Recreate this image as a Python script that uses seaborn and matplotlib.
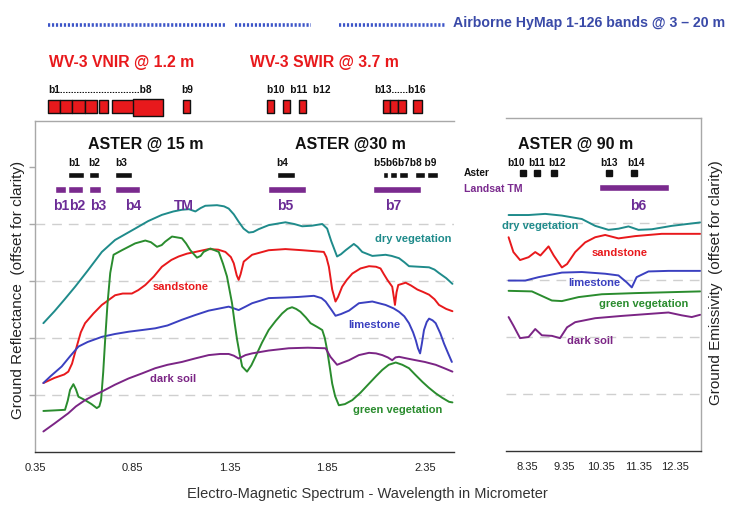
import numpy as np
import pandas as pd
import matplotlib
matplotlib.use("Agg")
import matplotlib.pyplot as plt
import seaborn as sns

# ------------------------------------------------------------------
# Data
# ------------------------------------------------------------------
# VNIR-SWIR reflectance (left panel), wavelength in micrometer, value offset units
dry_veg_wl = [0.393, 0.45, 0.50, 0.556, 0.62, 0.693, 0.761, 0.864, 0.93, 1.001, 1.06, 1.104, 1.14, 1.173,
              1.20, 1.224, 1.284, 1.32, 1.344, 1.37, 1.395, 1.42, 1.447, 1.47, 1.498, 1.549, 1.60, 1.635,
              1.68, 1.721, 1.77, 1.824, 1.849, 1.87, 1.90, 1.92, 1.944, 1.986, 2.005, 2.029, 2.081, 2.149,
              2.18, 2.218, 2.245, 2.269, 2.32, 2.372, 2.40, 2.423, 2.46, 2.492]
dry_veg_ref = [2.26, 2.47, 2.67, 2.90, 3.18, 3.51, 3.72, 3.92, 4.05, 4.16, 4.22, 4.25, 4.26, 4.22,
               4.28, 4.32, 4.33, 4.31, 4.27, 4.17, 4.04, 3.92, 3.85, 3.86, 3.91, 3.98, 4.01, 4.03,
               4.00, 3.96, 3.97, 4.00, 3.92, 3.70, 3.43, 3.47, 3.54, 3.65, 3.60, 3.51, 3.44, 3.46,
               3.44, 3.40, 3.33, 3.26, 3.25, 3.24, 3.20, 3.14, 3.05, 2.95]

sandstone_wl = [0.393, 0.45, 0.50, 0.521, 0.54, 0.564, 0.585, 0.607, 0.65, 0.693, 0.761, 0.80, 0.847, 0.88,
                0.916, 0.96, 1.001, 1.05, 1.087, 1.13, 1.173, 1.241, 1.29, 1.327, 1.355, 1.37, 1.385, 1.395,
                1.405, 1.421, 1.464, 1.549, 1.635, 1.721, 1.832, 1.845, 1.858, 1.875, 1.892, 1.905, 1.926,
                1.95, 1.978, 2.02, 2.064, 2.10, 2.123, 2.14, 2.158, 2.183, 2.192, 2.197, 2.205, 2.214,
                2.252, 2.28, 2.312, 2.34, 2.372, 2.40, 2.423, 2.46, 2.492]
sandstone_ref = [1.21, 1.30, 1.36, 1.41, 1.55, 1.85, 2.10, 2.26, 2.43, 2.58, 2.75, 2.78, 2.78, 2.84,
                 2.93, 3.08, 3.25, 3.37, 3.43, 3.48, 3.51, 3.56, 3.55, 3.51, 3.42, 3.31, 3.10, 3.02,
                 3.12, 3.34, 3.46, 3.54, 3.56, 3.54, 3.51, 3.42, 3.25, 2.85, 2.64, 2.72, 2.90,
                 3.02, 3.13, 3.22, 3.26, 3.25, 3.22, 3.12, 3.02, 2.90, 2.70, 2.58, 2.80, 2.93,
                 2.97, 2.92, 2.85, 2.81, 2.76, 2.68, 2.58, 2.51, 2.47]

limestone_wl = [0.393, 0.43, 0.487, 0.53, 0.573, 0.62, 0.693, 0.76, 0.83, 0.90, 0.967, 1.03, 1.104, 1.17,
                1.241, 1.30, 1.344, 1.37, 1.395, 1.43, 1.464, 1.549, 1.635, 1.70, 1.781, 1.82, 1.841,
                1.87, 1.892, 1.92, 1.961, 2.012, 2.081, 2.149, 2.19, 2.218, 2.245, 2.269, 2.29, 2.304,
                2.315, 2.326, 2.335, 2.346, 2.36, 2.372, 2.39, 2.406, 2.43, 2.449, 2.47, 2.489]
limestone_ref = [1.21, 1.33, 1.50, 1.68, 1.85, 1.93, 2.02, 2.07, 2.11, 2.14, 2.17, 2.22, 2.32, 2.40,
                 2.48, 2.52, 2.55, 2.52, 2.49, 2.55, 2.61, 2.70, 2.71, 2.72, 2.74, 2.70, 2.64,
                 2.50, 2.39, 2.42, 2.48, 2.61, 2.64, 2.58, 2.52, 2.46, 2.38, 2.26, 2.10, 1.96,
                 1.82, 1.73, 1.90, 2.14, 2.28, 2.34, 2.31, 2.26, 2.08, 1.90, 1.73, 1.58]

green_veg_wl = [0.393, 0.45, 0.504, 0.518, 0.53, 0.547, 0.56, 0.573, 0.607, 0.64, 0.667, 0.68, 0.689, 0.70,
                0.71, 0.722, 0.736, 0.753, 0.796, 0.864, 0.916, 0.945, 0.976, 1.00, 1.018, 1.053, 1.104,
                1.125, 1.147, 1.181, 1.20, 1.215, 1.25, 1.293, 1.315, 1.335, 1.361, 1.375, 1.387, 1.40,
                1.413, 1.438, 1.46, 1.481, 1.515, 1.549, 1.585, 1.618, 1.645, 1.669, 1.69, 1.712, 1.74,
                1.764, 1.80, 1.824, 1.837, 1.849, 1.862, 1.875, 1.89, 1.909, 1.94, 1.978, 2.02, 2.064,
                2.10, 2.132, 2.165, 2.201, 2.235, 2.269, 2.30, 2.338, 2.37, 2.406, 2.44, 2.475, 2.492]
green_veg_ref = [0.72, 0.73, 0.74, 0.90, 1.09, 1.19, 1.10, 0.97, 0.91, 0.84, 0.77, 0.80, 0.91, 1.40,
                 1.97, 2.60, 3.14, 3.46, 3.54, 3.66, 3.71, 3.68, 3.60, 3.63, 3.69, 3.78, 3.75,
                 3.66, 3.54, 3.41, 3.44, 3.51, 3.57, 3.51, 3.30, 3.08, 2.61, 2.25, 1.97, 1.72,
                 1.50, 1.41, 1.52, 1.67, 1.92, 2.14, 2.30, 2.43, 2.51, 2.54, 2.51, 2.46, 2.36,
                 2.26, 2.19, 2.14, 2.00, 1.79, 1.50, 1.20, 0.98, 0.82, 0.84, 0.91, 1.04, 1.20,
                 1.33, 1.44, 1.53, 1.57, 1.53, 1.47, 1.36, 1.23, 1.13, 1.03, 0.95, 0.88, 0.87]

dark_soil_wl = [0.393, 0.45, 0.521, 0.56, 0.607, 0.65, 0.693, 0.76, 0.83, 0.90, 0.967, 1.03, 1.104, 1.17,
                1.241, 1.30, 1.344, 1.37, 1.395, 1.43, 1.464, 1.549, 1.652, 1.75, 1.841, 1.866, 1.90,
                1.93, 1.961, 2.012, 2.064, 2.10, 2.132, 2.16, 2.183, 2.20, 2.218, 2.26, 2.304, 2.35,
                2.406, 2.45, 2.492]
dark_soil_ref = [0.36, 0.50, 0.68, 0.80, 0.91, 0.99, 1.06, 1.18, 1.29, 1.38, 1.47, 1.53, 1.58, 1.64,
                 1.70, 1.72, 1.72, 1.69, 1.64, 1.70, 1.73, 1.78, 1.82, 1.83, 1.82, 1.67, 1.53,
                 1.57, 1.61, 1.70, 1.74, 1.73, 1.70, 1.66, 1.61, 1.66, 1.67, 1.64, 1.61, 1.58,
                 1.53, 1.47, 1.41]

# TIR emissivity (right panel)
dry_veg_tir_wl = [7.85, 8.39, 8.84, 9.29, 9.83, 10.19, 10.55, 10.82, 11.09, 11.36, 11.72, 12.26, 13.03]
dry_veg_tir = [4.14, 4.14, 4.16, 4.13, 4.07, 3.95, 3.88, 3.90, 3.94, 3.88, 3.89, 3.95, 4.01]

sandstone_tir_wl = [7.85, 7.98, 8.16, 8.39, 8.57, 8.71, 8.93, 9.07, 9.29, 9.43, 9.65, 9.92, 10.19, 10.46,
                    10.82, 11.27, 11.99, 13.03]
sandstone_tir = [3.75, 3.49, 3.35, 3.40, 3.49, 3.43, 3.59, 3.43, 3.22, 3.28, 3.49, 3.66, 3.75, 3.79,
                 3.73, 3.77, 3.81, 3.81]

limestone_tir_wl = [7.85, 8.30, 8.66, 9.29, 9.83, 10.46, 10.82, 11.04, 11.18, 11.31, 11.63, 12.17, 13.03]
limestone_tir = [2.99, 2.99, 3.05, 3.13, 3.14, 3.11, 3.08, 2.96, 2.87, 3.05, 3.15, 3.16, 3.16]

green_veg_tir_wl = [7.85, 8.48, 8.75, 9.02, 9.29, 9.74, 10.37, 11.27, 13.03]
green_veg_tir = [2.81, 2.80, 2.72, 2.64, 2.63, 2.70, 2.75, 2.77, 2.80]

dark_soil_tir_wl = [7.85, 7.98, 8.16, 8.39, 8.57, 8.75, 9.02, 9.24, 9.43, 9.65, 10.19, 10.91, 11.54,
                    12.17, 12.53, 12.80, 13.03]
dark_soil_tir = [2.35, 2.20, 1.98, 2.00, 2.14, 2.03, 2.02, 1.98, 2.17, 2.26, 2.33, 2.37, 2.40,
                 2.43, 2.38, 2.35, 2.39]

# Curve labels: (text, wavelength, value)
curve_names = ["dry vegetation", "sandstone", "limestone", "green vegetation", "dark soil"]
label_wl_left = [2.29, 1.095, 2.093, 2.21, 1.06]
label_val_left = [3.74, 2.89, 2.23, 0.74, 1.28]
label_wl_right = [8.70, 10.86, 10.16, 11.49, 10.05]
label_val_right = [3.95, 3.47, 2.95, 2.58, 1.93]

# Sensor bands (wavelength ranges in micrometer)
hymap_segments = [(0.417, 1.327), (1.378, 1.764), (1.908, 2.453)]
wv3_small_bands = [(0.417, 0.479), (0.479, 0.540), (0.540, 0.607), (0.607, 0.668), (0.679, 0.725),
                   (0.746, 0.874), (1.111, 1.147), (1.538, 1.575), (1.620, 1.656), (1.707, 1.743),
                   (2.134, 2.173), (2.173, 2.212), (2.212, 2.252), (2.288, 2.335)]
wv3_b8_band = (0.853, 1.008)
aster_vnir_swir = [(0.52, 0.60), (0.628, 0.679), (0.761, 0.849), (1.594, 1.682), (2.134, 2.160),
                   (2.170, 2.206), (2.216, 2.262), (2.298, 2.350), (2.360, 2.417)]
aster_label_text = ["b1", "b2", "b3", "b4", "b5b6b7b8 b9"]
aster_label_wl = [0.55, 0.656, 0.792, 1.62, 2.252]
tm_bands = [(0.453, 0.509), (0.52, 0.597), (0.628, 0.689), (0.761, 0.89), (1.548, 1.743), (2.083, 2.33)]
tm_label_text = ["b1", "b2", "b3", "b4", "TM", "b5", "b7"]
tm_label_wl = [0.484, 0.566, 0.674, 0.854, 1.116, 1.635, 2.19]
aster_tir_centers = [8.24, 8.62, 9.08, 10.57, 11.25]
aster_tir_text = ["b10", "b11", "b12", "b13", "b14"]
aster_tir_label_wl = [8.05, 8.60, 9.16, 10.57, 11.30]
tm_tir_band = (10.30, 12.19)

left_ticks = [0.35, 0.85, 1.35, 1.85, 2.35]
right_ticks = [8.35, 9.35, 10.35, 11.35, 12.35]
grid_levels = [1, 2, 3, 4]
ytick_levels = [1, 2, 3, 4, 5]

# ------------------------------------------------------------------
sns.set_style("white")
plt.rcParams['font.family'] = ['Liberation Sans', 'DejaVu Sans']

W, H = 734, 505
fig = plt.figure(figsize=(W / 100, H / 100), dpi=100)

def fx(px):
    return px / W

def fy(px):
    return 1 - px / H

# main axes
L_left, L_right, L_top, L_bot = 35, 454, 121, 452
R_left, R_right, R_top, R_bot = 506, 701, 118, 451
axL = fig.add_axes([fx(L_left), fy(L_bot), fx(L_right - L_left), (L_bot - L_top) / H])
axR = fig.add_axes([fx(R_left), fy(R_bot), fx(R_right - R_left), (R_bot - R_top) / H])
axL.set_xlim(0.35, 2.50)
axL.set_ylim(0, (L_bot - L_top) / 57)
axR.set_xlim(7.78, 13.05)
axR.set_ylim(0, (R_bot - R_top) / 57)

C = {"dry vegetation": "#1f8b8b", "sandstone": "#e8191c", "limestone": "#3b40c0",
     "green vegetation": "#2a8c2e", "dark soil": "#7b2585"}
purple_tm = "#7a2a8e"

for lv in grid_levels:
    axL.axhline(lv, color="#cfcfcf", lw=1.0, ls=(0, (7, 5)), zorder=0)
    axR.axhline(lv, color="#cfcfcf", lw=1.0, ls=(0, (7, 5)), zorder=0)

left_series = [(dry_veg_wl, dry_veg_ref), (sandstone_wl, sandstone_ref), (limestone_wl, limestone_ref),
               (green_veg_wl, green_veg_ref), (dark_soil_wl, dark_soil_ref)]
right_series = [(dry_veg_tir_wl, dry_veg_tir), (sandstone_tir_wl, sandstone_tir),
                (limestone_tir_wl, limestone_tir), (green_veg_tir_wl, green_veg_tir),
                (dark_soil_tir_wl, dark_soil_tir)]
for name, (xw, yv) in zip(curve_names, left_series):
    sns.lineplot(x=xw, y=yv, ax=axL, color=C[name], lw=1.4, estimator=None)
for name, (xw, yv) in zip(curve_names, right_series):
    sns.lineplot(x=xw, y=yv, ax=axR, color=C[name], lw=1.4, estimator=None)

for name, lx, ly in zip(curve_names, label_wl_left, label_val_left):
    axL.text(lx, ly, name, color=C[name], fontsize=8, fontweight="bold", ha="center", va="center")
for name, lx, ly in zip(curve_names, label_wl_right, label_val_right):
    axR.text(lx, ly, name, color=C[name], fontsize=8, fontweight="bold", ha="center", va="center")

# spines & ticks
for ax in (axL, axR):
    ax.set_facecolor("none")
    for s in ax.spines.values():
        s.set_color("#a8a8a8")
        s.set_linewidth(1.0)
    ax.spines["bottom"].set_color("#333333")
    ax.set_xlabel("")
    ax.set_ylabel("")
axL.spines["right"].set_visible(False)
axR.spines["left"].set_visible(False)

tick_font = dict(family=['Liberation Sans Narrow', 'Liberation Sans', 'DejaVu Sans'], size=8)
axL.set_xticks(left_ticks)
axL.set_xticklabels([f"{t:.2f}" for t in left_ticks], fontdict=tick_font, color="#222222")
axR.set_xticks(right_ticks)
axR.set_xticklabels([f"{t:.2f}" for t in right_ticks], fontdict=tick_font, color="#222222")
axL.set_yticks(ytick_levels)
axL.set_yticklabels([])
axR.set_yticks([])
axL.tick_params(axis="x", direction="out", length=4, width=1, color="#333333", pad=4)
axR.tick_params(axis="x", direction="out", length=4, width=1, color="#333333", pad=4)
axL.tick_params(axis="y", direction="out", length=4, width=1, color="#a8a8a8", left=True)

# overlay axes for band annotations (x in wavelength, y in pixels from top)
axTL = fig.add_axes([fx(L_left), 0, fx(L_right - L_left), 1])
axTL.set_xlim(axL.get_xlim())
axTL.set_ylim(H, 0)
axTL.axis("off")
axTR = fig.add_axes([fx(R_left), 0, fx(R_right - R_left), 1])
axTR.set_xlim(axR.get_xlim())
axTR.set_ylim(H, 0)
axTR.axis("off")

hy_col = "#3d55c8"
for a, b in hymap_segments:
    axTL.plot([a, b], [25, 25], color=hy_col, lw=2.6, ls=(0, (0.6, 0.5)), solid_capstyle="butt")
axTL.text(2.495, 23, "Airborne HyMap 1-126 bands @ 3 – 20 m", color="#3a4aa8", fontsize=10.2,
          fontweight="bold", ha="left", va="center")

red = "#e8191c"
axTL.text(0.795, 62, "WV-3 VNIR @ 1.2 m", color=red, fontsize=11.3, fontweight="bold", ha="center", va="center")
axTL.text(1.835, 62, "WV-3 SWIR @ 3.7 m", color=red, fontsize=11.3, fontweight="bold", ha="center", va="center")

bl = dict(color="#111111", fontsize=7.3, fontweight="bold", va="center")
axTL.text(0.417, 90, "b1.............................b8", ha="left", **bl)
axTL.text(1.129, 90, "b9", ha="center", **bl)
axTL.text(1.538, 90, "b10  b11  b12", ha="left", **bl)
axTL.text(2.09, 90, "b13......b16", ha="left", **bl)

axTL.broken_barh([(a, b - a) for a, b in wv3_small_bands], (100, 13), facecolors=red,
                 edgecolors="#111111", linewidth=1.0)
axTL.broken_barh([(wv3_b8_band[0], wv3_b8_band[1] - wv3_b8_band[0])], (99, 17), facecolors=red,
                 edgecolors="#111111", linewidth=1.0)

title_kw = dict(color="#111111", fontsize=11.5, fontweight="bold", ha="center", va="center")
axTL.text(0.92, 144, "ASTER @ 15 m", **title_kw)
axTL.text(1.97, 144, "ASTER @30 m", **title_kw)
axTR.text(9.65, 144, "ASTER @ 90 m", **title_kw)

for t, w in zip(aster_label_text, aster_label_wl):
    axTL.text(w, 163, t, ha="center", **bl)
axTL.broken_barh([(a, b - a) for a, b in aster_vnir_swir], (172, 6), facecolors="#111111")
axTL.broken_barh([(a, b - a) for a, b in tm_bands], (186, 7), facecolors=purple_tm)
for t, w in zip(tm_label_text, tm_label_wl):
    axTL.text(w, 206, t, ha="center", va="center", color="#6b2c96", fontsize=10, fontweight="bold")

# right panel bands
for t, w in zip(aster_tir_text, aster_tir_label_wl):
    axTR.text(w, 163, t, ha="center", **bl)
axTR.plot(aster_tir_centers, [173] * len(aster_tir_centers), ls="none", marker="s", ms=4,
          color="#111111")
axTR.broken_barh([(tm_tir_band[0], tm_tir_band[1] - tm_tir_band[0])], (184, 7), facecolors=purple_tm)
axTR.text(11.35, 206, "b6", ha="center", va="center", color="#6b2c96", fontsize=10, fontweight="bold")
axTR.text(6.65, 173, "Aster", ha="left", **bl)
axTR.text(6.65, 189, "Landsat TM", ha="left", va="center", color=purple_tm, fontsize=7.6, fontweight="bold")

# axis titles
fig.text(fx(18), fy(290), "Ground Reflectance  (offset for clarity)", rotation=90, ha="center",
         va="center", fontsize=11, color="#222222")
fig.text(fx(716), fy(283), "Ground Emissivity  (offset for clarity)", rotation=90, ha="center",
         va="center", fontsize=11, color="#222222")
fig.text(0.5, fy(494), "Electro-Magnetic Spectrum - Wavelength in Micrometer", ha="center",
         va="center", fontsize=10.5, color="#333333")

fig.savefig("out.png", dpi=100)
